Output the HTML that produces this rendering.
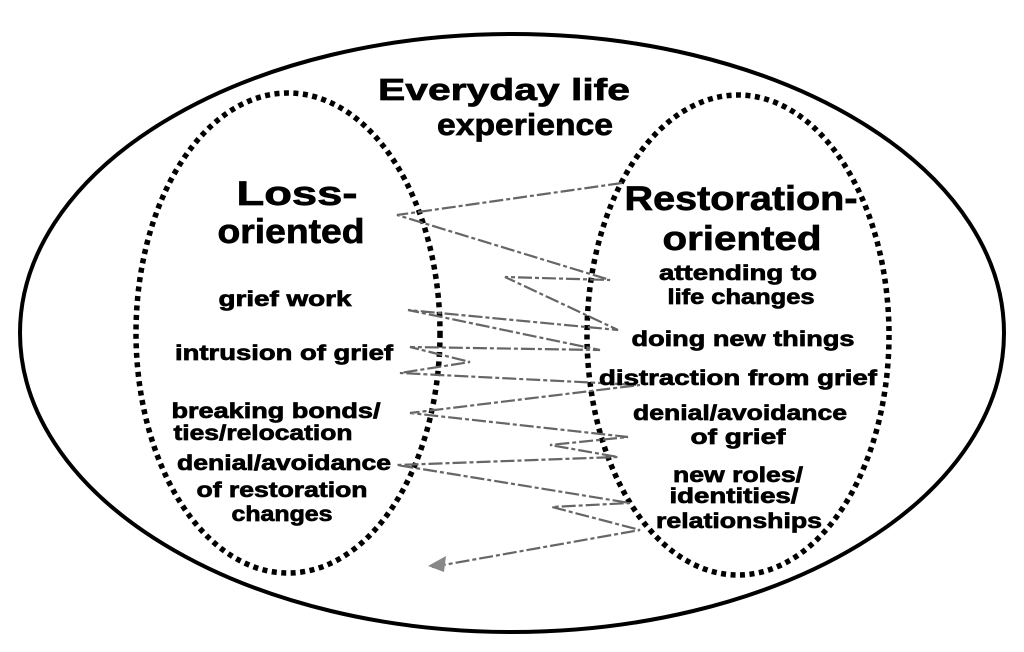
<!DOCTYPE html>
<html><head><meta charset="utf-8"><style>
html,body{margin:0;padding:0;background:#fff;}
svg{display:block;}
text{font-family:"Liberation Sans",sans-serif;font-weight:bold;fill:#000;stroke:#000;stroke-width:0.7;}
</style></head><body>
<svg width="1024" height="652" viewBox="0 0 1024 652" xmlns="http://www.w3.org/2000/svg">
<ellipse cx="512" cy="333" rx="492" ry="299" fill="none" stroke="#000" stroke-width="4"/>
<ellipse cx="288" cy="333" rx="152" ry="240" fill="none" stroke="#000" stroke-width="5.5" stroke-dasharray="5 4.5"/>
<ellipse cx="738" cy="335" rx="151" ry="240" fill="none" stroke="#000" stroke-width="5.5" stroke-dasharray="5 4.5"/>
<polyline fill="none" stroke="#666" stroke-width="2.2" stroke-dasharray="14 3 4 3" points="622,183 397,215 610,280 505,277 618,330 408,310 600,350 410,347 470,362 400,373 640,385 410,413 628,437 550,445 618,457 397,465 630,503 552,507 640,530 432,567"/>
<polygon points="428,566 446,556 444,572" fill="#888"/>
<g text-anchor="middle">
<text x="504" y="100" font-size="31" textLength="252" lengthAdjust="spacingAndGlyphs">Everyday life</text>
<text x="525" y="135" font-size="31" textLength="176" lengthAdjust="spacingAndGlyphs">experience</text>
<text x="297" y="205" font-size="34" textLength="121" lengthAdjust="spacingAndGlyphs">Loss-</text>
<text x="291" y="243" font-size="34" textLength="147" lengthAdjust="spacingAndGlyphs">oriented</text>
<text x="741" y="210" font-size="34" textLength="233" lengthAdjust="spacingAndGlyphs">Restoration-</text>
<text x="742" y="250" font-size="34" textLength="159" lengthAdjust="spacingAndGlyphs">oriented</text>
<text x="738" y="280" font-size="21" textLength="158" lengthAdjust="spacingAndGlyphs">attending to</text>
<text x="741" y="304" font-size="21" textLength="147" lengthAdjust="spacingAndGlyphs">life changes</text>
<text x="743" y="346" font-size="21" textLength="223" lengthAdjust="spacingAndGlyphs">doing new things</text>
<text x="738" y="385" font-size="21" textLength="278" lengthAdjust="spacingAndGlyphs">distraction from grief</text>
<text x="740" y="420" font-size="21" textLength="214" lengthAdjust="spacingAndGlyphs">denial/avoidance</text>
<text x="738" y="444" font-size="21" textLength="95" lengthAdjust="spacingAndGlyphs">of grief</text>
<text x="738" y="482" font-size="21" textLength="130" lengthAdjust="spacingAndGlyphs">new roles/</text>
<text x="734" y="503" font-size="21" textLength="129" lengthAdjust="spacingAndGlyphs">identities/</text>
<text x="739" y="528" font-size="21" textLength="166" lengthAdjust="spacingAndGlyphs">relationships</text>
<text x="285" y="306" font-size="21" textLength="133" lengthAdjust="spacingAndGlyphs">grief work</text>
<text x="284" y="360" font-size="21" textLength="218" lengthAdjust="spacingAndGlyphs">intrusion of grief</text>
<text x="276" y="418" font-size="21" textLength="209" lengthAdjust="spacingAndGlyphs">breaking bonds/</text>
<text x="263" y="440" font-size="21" textLength="179" lengthAdjust="spacingAndGlyphs">ties/relocation</text>
<text x="284" y="470" font-size="21" textLength="214" lengthAdjust="spacingAndGlyphs">denial/avoidance</text>
<text x="282" y="497" font-size="21" textLength="171" lengthAdjust="spacingAndGlyphs">of restoration</text>
<text x="282" y="521" font-size="21" textLength="101" lengthAdjust="spacingAndGlyphs">changes</text>
</g>
</svg>
</body></html>
